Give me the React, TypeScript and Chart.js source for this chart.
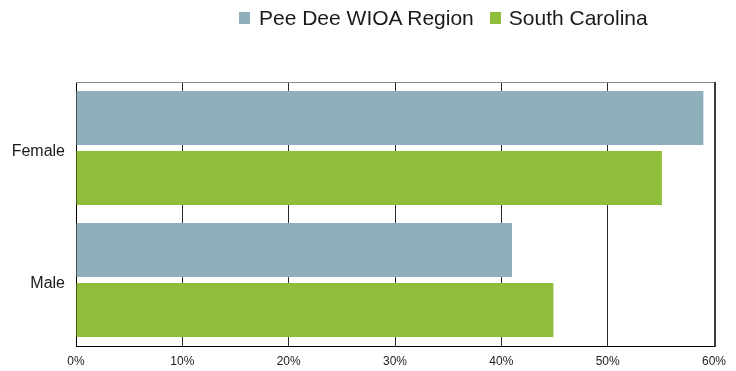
import React, { useEffect, useRef } from "react";
import { Chart, registerables } from "chart.js";

Chart.register(...registerables);

const categories = ["Female", "Male"];
const seriesNames = ["Pee Dee WIOA Region", "South Carolina"];
const peeDeeValues = [59.0, 41.0];
const southCarolinaValues = [55.1, 44.9];
const xTicks = [0, 10, 20, 30, 40, 50, 60];
const colors = ["#8FAFBA", "#8FBE3C"];

const FONT = "'Liberation Sans', Arial, Helvetica, sans-serif";

const framePlugin = {
  id: "frame",
  afterDatasetsDraw(chart: any) {
    const { ctx, chartArea } = chart;
    ctx.save();
    ctx.strokeStyle = "#8a8a8a";
    ctx.lineWidth = 1;
    ctx.beginPath();
    ctx.moveTo(Math.round(chartArea.left), Math.round(chartArea.top) + 0.5);
    ctx.lineTo(Math.round(chartArea.right) + 1, Math.round(chartArea.top) + 0.5);
    ctx.stroke();
    ctx.strokeStyle = "#3a3a3a";
    ctx.lineWidth = 2;
    ctx.beginPath();
    ctx.moveTo(Math.round(chartArea.right) + 1, Math.round(chartArea.top));
    ctx.lineTo(Math.round(chartArea.right) + 1, Math.round(chartArea.bottom) + 1);
    ctx.stroke();
    ctx.restore();
  },
};

export default function App() {
  const canvasRef = useRef<HTMLCanvasElement | null>(null);

  useEffect(() => {
    if (!canvasRef.current) return;
    const chart = new Chart(canvasRef.current, {
      type: "bar",
      data: {
        labels: categories,
        datasets: [
          {
            label: seriesNames[0],
            data: peeDeeValues,
            backgroundColor: colors[0],
            categoryPercentage: 0.91,
            barPercentage: 0.9,
          },
          {
            label: seriesNames[1],
            data: southCarolinaValues,
            backgroundColor: colors[1],
            categoryPercentage: 0.91,
            barPercentage: 0.9,
          },
        ],
      },
      options: {
        indexAxis: "y",
        animation: false,
        responsive: true,
        maintainAspectRatio: false,
        layout: { padding: { top: 74, right: 14, left: 0, bottom: 0 } },
        plugins: {
          legend: { display: false },
          tooltip: { enabled: false },
        },
        scales: {
          x: {
            min: 0,
            max: 60,
            afterBuildTicks: (scale: any) => {
              scale.ticks = xTicks.map((v) => ({ value: v }));
            },
            afterFit: (scale: any) => {
              scale.height = 25;
              scale.paddingRight = 0;
              scale.paddingLeft = 0;
            },
            ticks: {
              callback: (v: any) => v + "%",
              font: { family: FONT, size: 12 },
              color: "#222",
              padding: 8,
              maxRotation: 0,
            },
            grid: {
              color: "#2a2a2a",
              lineWidth: 1,
              drawTicks: false,
            },
            border: { color: "#000", width: 1 },
          },
          y: {
            afterFit: (scale: any) => {
              scale.width = 68;
            },
            ticks: {
              font: { family: FONT, size: 16 },
              color: "#1a1a1a",
              padding: 11,
              labelOffset: 4,
            },
            grid: { display: false, drawTicks: false },
            border: { color: "#000", width: 1 },
          },
        },
      },
      plugins: [framePlugin],
    } as any);
    return () => chart.destroy();
  }, []);

  return (
    <div style={{ position: "relative", width: 720, height: 363 }}>
      <div
        style={{
          position: "absolute",
          left: 231,
          top: -1,
          display: "flex",
          alignItems: "center",
          fontFamily: FONT,
          fontSize: 21,
          lineHeight: "21px",
          color: "#1a1a1a",
          whiteSpace: "nowrap",
        }}
      >
        <span style={{ display: "inline-block", width: 11, height: 12, background: colors[0], marginRight: 9 }} />
        <span>{seriesNames[0]}</span>
        <span style={{ display: "inline-block", width: 11, height: 12, background: colors[1], marginLeft: 16, marginRight: 8 }} />
        <span>{seriesNames[1]}</span>
      </div>
      <canvas ref={canvasRef} />
    </div>
  );
}
